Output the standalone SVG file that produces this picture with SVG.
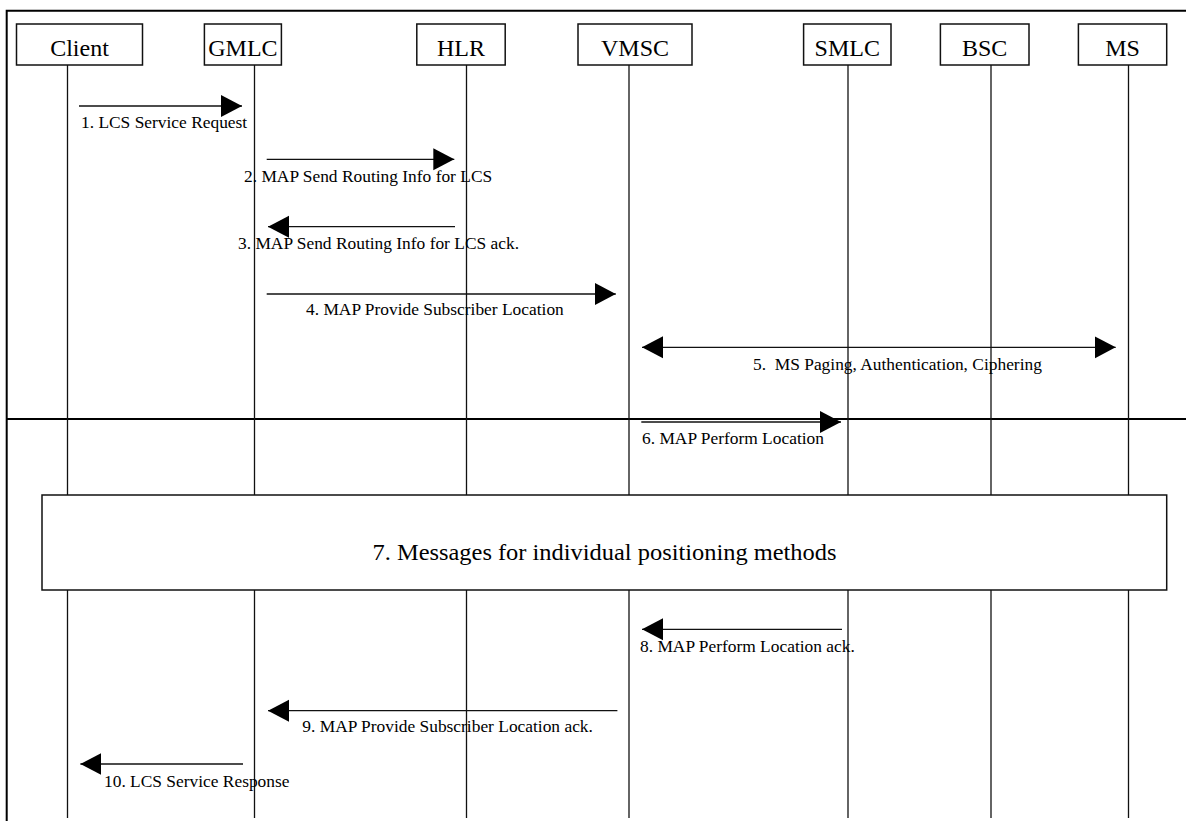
<svg xmlns="http://www.w3.org/2000/svg" width="1186" height="821" viewBox="0 0 1186 821">
  <style>
    .box { fill: #fff; stroke: #111; stroke-width: 1.5; }
    .life { stroke: #111; stroke-width: 1.3; fill: none; }
    .frame { stroke: #000; stroke-width: 2; fill: none; }
    .msg { stroke: #111; stroke-width: 1.3; fill: none; marker-end: url(#ah); }
    .bi { marker-start: url(#ah); }
    .name { font-family: "Liberation Serif", "Times New Roman", serif; font-size: 24px; fill: #000; text-anchor: middle; }
    .lbl { font-family: "Liberation Serif", "Times New Roman", serif; font-size: 17.4px; fill: #000; white-space: pre; }
  </style>
  <defs>
    <marker id="ah" markerUnits="userSpaceOnUse" markerWidth="22" markerHeight="23" viewBox="0 0 22 23" refX="21" refY="11.5" orient="auto-start-reverse">
      <path d="M0,0.5 L21,11.5 L0,22.5 z" fill="#000"/>
    </marker>
  </defs>
  <rect width="1186" height="821" fill="#fff"/>

  <g id="frame">
    <path class="frame" d="M6.7,821 V10.7 H1186"/>
    <line class="frame" x1="6.7" y1="419" x2="1186" y2="419"/>
  </g>

  <g id="node-client">
    <line class="life" x1="67.5" y1="64" x2="67.5" y2="818"/>
    <rect class="box" x="16.5" y="24" width="126" height="41"/>
    <text class="name" x="79.5" y="56">Client</text>
  </g>
  <g id="node-gmlc">
    <line class="life" x1="254.5" y1="64" x2="254.5" y2="818"/>
    <rect class="box" x="204.4" y="24" width="77" height="41"/>
    <text class="name" x="242.9" y="56">GMLC</text>
  </g>
  <g id="node-hlr">
    <line class="life" x1="466.5" y1="64" x2="466.5" y2="818"/>
    <rect class="box" x="416.8" y="24" width="88.4" height="41"/>
    <text class="name" x="461" y="56">HLR</text>
  </g>
  <g id="node-vmsc">
    <line class="life" x1="629" y1="64" x2="629" y2="818"/>
    <rect class="box" x="578" y="24" width="114" height="41"/>
    <text class="name" x="635" y="56">VMSC</text>
  </g>
  <g id="node-smlc">
    <line class="life" x1="848" y1="64" x2="848" y2="818"/>
    <rect class="box" x="803.6" y="24" width="87.4" height="41"/>
    <text class="name" x="847.3" y="56">SMLC</text>
  </g>
  <g id="node-bsc">
    <line class="life" x1="991" y1="64" x2="991" y2="818"/>
    <rect class="box" x="940.4" y="24" width="88.6" height="41"/>
    <text class="name" x="984.7" y="56">BSC</text>
  </g>
  <g id="node-ms">
    <line class="life" x1="1128.5" y1="64" x2="1128.5" y2="818"/>
    <rect class="box" x="1078.4" y="24" width="88.3" height="41"/>
    <text class="name" x="1122.5" y="56">MS</text>
  </g>

  <g id="node-positioning">
    <rect class="box" x="42" y="495" width="1124.7" height="95"/>
    <text class="name" x="604.5" y="560" textLength="464" lengthAdjust="spacingAndGlyphs">7. Messages for individual positioning methods</text>
  </g>

  <g id="connectors">
    <g id="msg1">
      <line class="msg" x1="79" y1="106" x2="242" y2="106"/>
      <text class="lbl" x="81" y="128">1. LCS Service Request</text>
    </g>
    <g id="msg2">
      <line class="msg" x1="266.7" y1="159.3" x2="454.3" y2="159.3"/>
      <text class="lbl" x="244" y="182">2. MAP Send Routing Info for LCS</text>
    </g>
    <g id="msg3">
      <line class="msg" x1="455" y1="226.7" x2="268" y2="226.7"/>
      <text class="lbl" x="238" y="249">3. MAP Send Routing Info for LCS ack.</text>
    </g>
    <g id="msg4">
      <line class="msg" x1="266.7" y1="294" x2="615.8" y2="294"/>
      <text class="lbl" x="306" y="315">4. MAP Provide Subscriber Location</text>
    </g>
    <g id="msg5">
      <line class="msg bi" x1="642" y1="347.3" x2="1115.7" y2="347.3"/>
      <text class="lbl" x="753" y="370" xml:space="preserve">5.  MS Paging, Authentication, Ciphering</text>
    </g>
    <g id="msg6">
      <line class="msg" x1="641.3" y1="422" x2="841" y2="422"/>
      <text class="lbl" x="642" y="444">6. MAP Perform Location</text>
    </g>
    <g id="msg8">
      <line class="msg" x1="842" y1="629.3" x2="642" y2="629.3"/>
      <text class="lbl" x="640" y="652">8. MAP Perform Location ack.</text>
    </g>
    <g id="msg9">
      <line class="msg" x1="617.4" y1="710.7" x2="268" y2="710.7"/>
      <text class="lbl" x="302.3" y="732">9. MAP Provide Subscriber Location ack.</text>
    </g>
    <g id="msg10">
      <line class="msg" x1="243" y1="764" x2="80.4" y2="764"/>
      <text class="lbl" x="104" y="787">10. LCS Service Response</text>
    </g>
  </g>
</svg>
